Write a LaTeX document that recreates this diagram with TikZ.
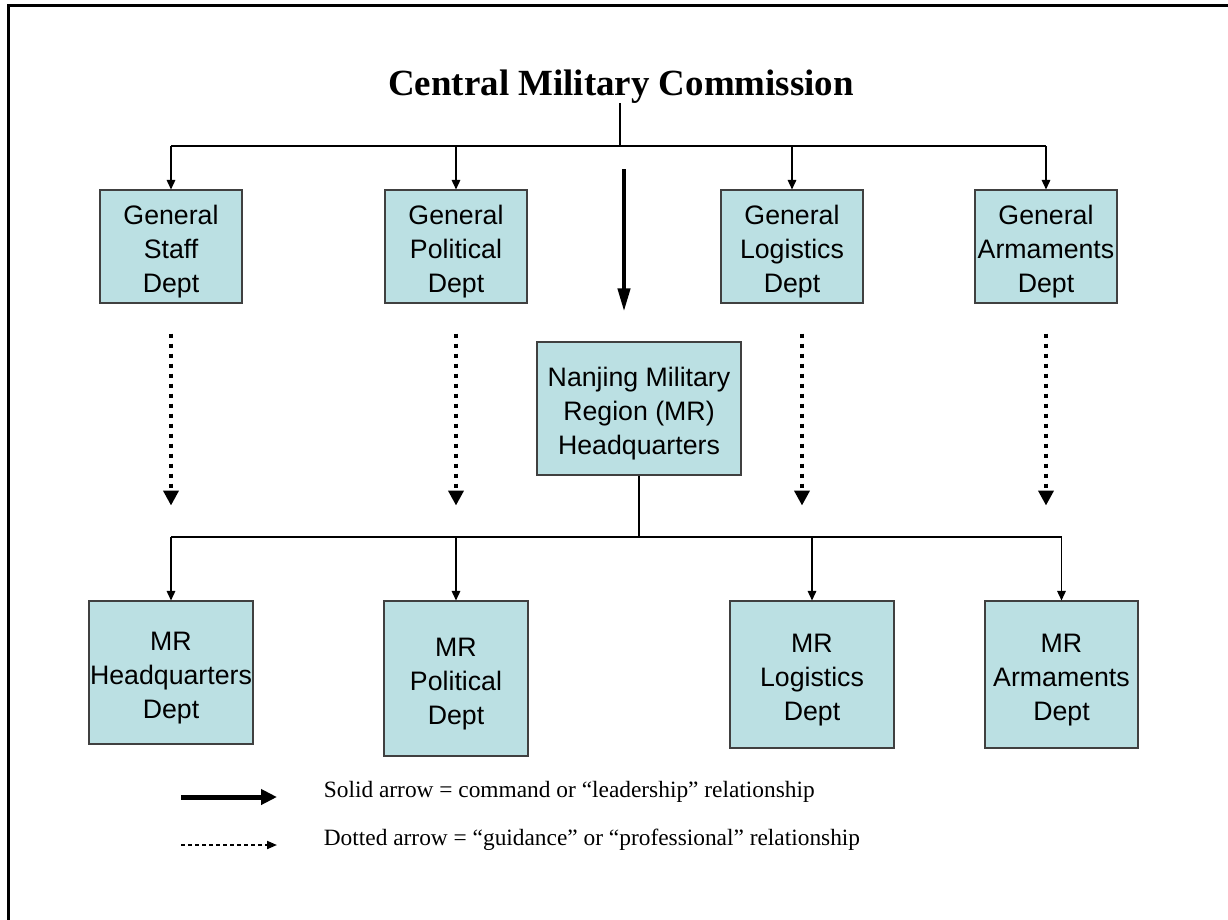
\documentclass[tikz,border=0pt]{standalone}
\usepackage{fontspec}
\setmainfont{Liberation Serif}
\setsansfont{Liberation Sans}
\usetikzlibrary{arrows.meta,calc}

\begin{document}
\begin{tikzpicture}[
        depto/.style={draw=black!75, line width=0.6pt, fill=celeste, align=center, inner sep=0pt,
            font=\sffamily\fontsize{15.2}{19.5}\selectfont, execute at begin node={\rule{0pt}{55.8pt}}},
        enlace/.style={line width=0.85pt, -{Triangle[length=0.19cm,width=0.17cm]}},
        barra/.style={line width=1.2pt},
        mando/.style={line width=0.08cm, -{Triangle[length=0.46cm,width=0.24cm]}},
        guia/.style={line width=0.08cm, dash pattern=on 0.08cm off 0.12cm, -{Triangle[length=0.3cm,width=0.3cm]}},
        leyenda/.style={inner sep=0pt, anchor=base west, font=\fontsize{13.3}{16}\selectfont}]
        %colores
        \definecolor{celeste}{HTML}{BBE0E3}

        % Marco
        \useasboundingbox (0,0) rectangle (24.56,-18.38);
        \clip (0,0) rectangle (24.56,-18.38);
        \draw[line width=0.06cm] (0.16,-18.6) |- (24.8,-0.1);

        % Titulo
        \node[inner sep=0pt, anchor=base, font=\bfseries\fontsize{21}{25}\selectfont] (cmc) at (12.42,-1.9) {Central Military Commission};
        \coordinate (topbar) at (12.4,-2.92);

        % Departamentos generales
        \foreach \n/\x/\txt in {gsd/3.42/General\\Staff\\Dept, gpd/9.12/General\\Political\\Dept,
                gld/15.84/General\\Logistics\\Dept, gad/20.92/General\\Armaments\\Dept}
            \node[depto, minimum width=2.84cm, minimum height=2.26cm] (\n) at (\x,-4.93) {\txt};

        % Cuartel general de la region
        \node[depto, minimum width=4.08cm, minimum height=2.66cm] (nanjing) at (12.78,-8.17) {Nanjing Military\\Region (MR)\\Headquarters};
        \coordinate (hqbar) at (12.78,-10.74);

        % Departamentos de la region
        \foreach \n/\x/\y/\w/\h/\txt in {mrhq/3.42/-13.45/3.28/2.86/MR\\Headquarters\\Dept,
                mrpol/9.12/-13.57/2.88/3.1/MR\\Political\\Dept,
                mrlog/16.24/-13.49/3.28/2.94/MR\\Logistics\\Dept,
                mrarm/21.23/-13.49/3.06/2.94/MR\\Armaments\\Dept}
            \node[depto, minimum width=\w cm, minimum height=\h cm] (\n) at (\x,\y) {\txt};

        % Lineas de mando
        \draw[barra] (cmc.south -| topbar) -- (topbar);
        \draw[barra] (gsd.north |- topbar) -- (gad.north |- topbar);
        \foreach \a in {gsd,gpd,gld,gad}
            \draw[enlace] (\a.north |- topbar) -- (\a.north);
        \draw[mando] ([xshift=-0.3cm,yshift=3.44cm]nanjing.north) -- ([xshift=-0.3cm,yshift=0.6cm]nanjing.north);
        \draw[line width=1.6pt] (nanjing.south) -- (hqbar);
        \draw[line width=1.5pt] (mrhq.north |- hqbar) -- (mrarm.north |- hqbar);
        \foreach \a in {mrhq,mrpol,mrlog,mrarm}
            \draw[enlace] (\a.north |- hqbar) -- (\a.north);

        % Flechas punteadas
        \foreach \a/\s in {gsd/0,gpd/0,gld/0.2,gad/0}
            \draw[guia] ($(\a.south)+(\s,-0.6)$) -- ++(0,-3.44);

        % Leyenda
        \node[leyenda] (solidtxt) at (6.47,-15.94) {Solid arrow = command or “leadership” relationship};
        \node[leyenda] (dottxt) at (6.47,-16.9) {Dotted arrow = “guidance” or “professional” relationship};
        \draw[line width=0.1cm, -{Triangle[length=0.32cm,width=0.3cm]}] ([xshift=-2.85cm]solidtxt.base west) -- ([xshift=-0.93cm]solidtxt.base west);
        \draw[line width=1.1pt, dash pattern=on 0.08cm off 0.06cm, -{Triangle[length=0.2cm,width=0.16cm]}] ([xshift=-2.85cm]dottxt.base west) -- ([xshift=-0.93cm]dottxt.base west);
    \end{tikzpicture}
\end{document}
